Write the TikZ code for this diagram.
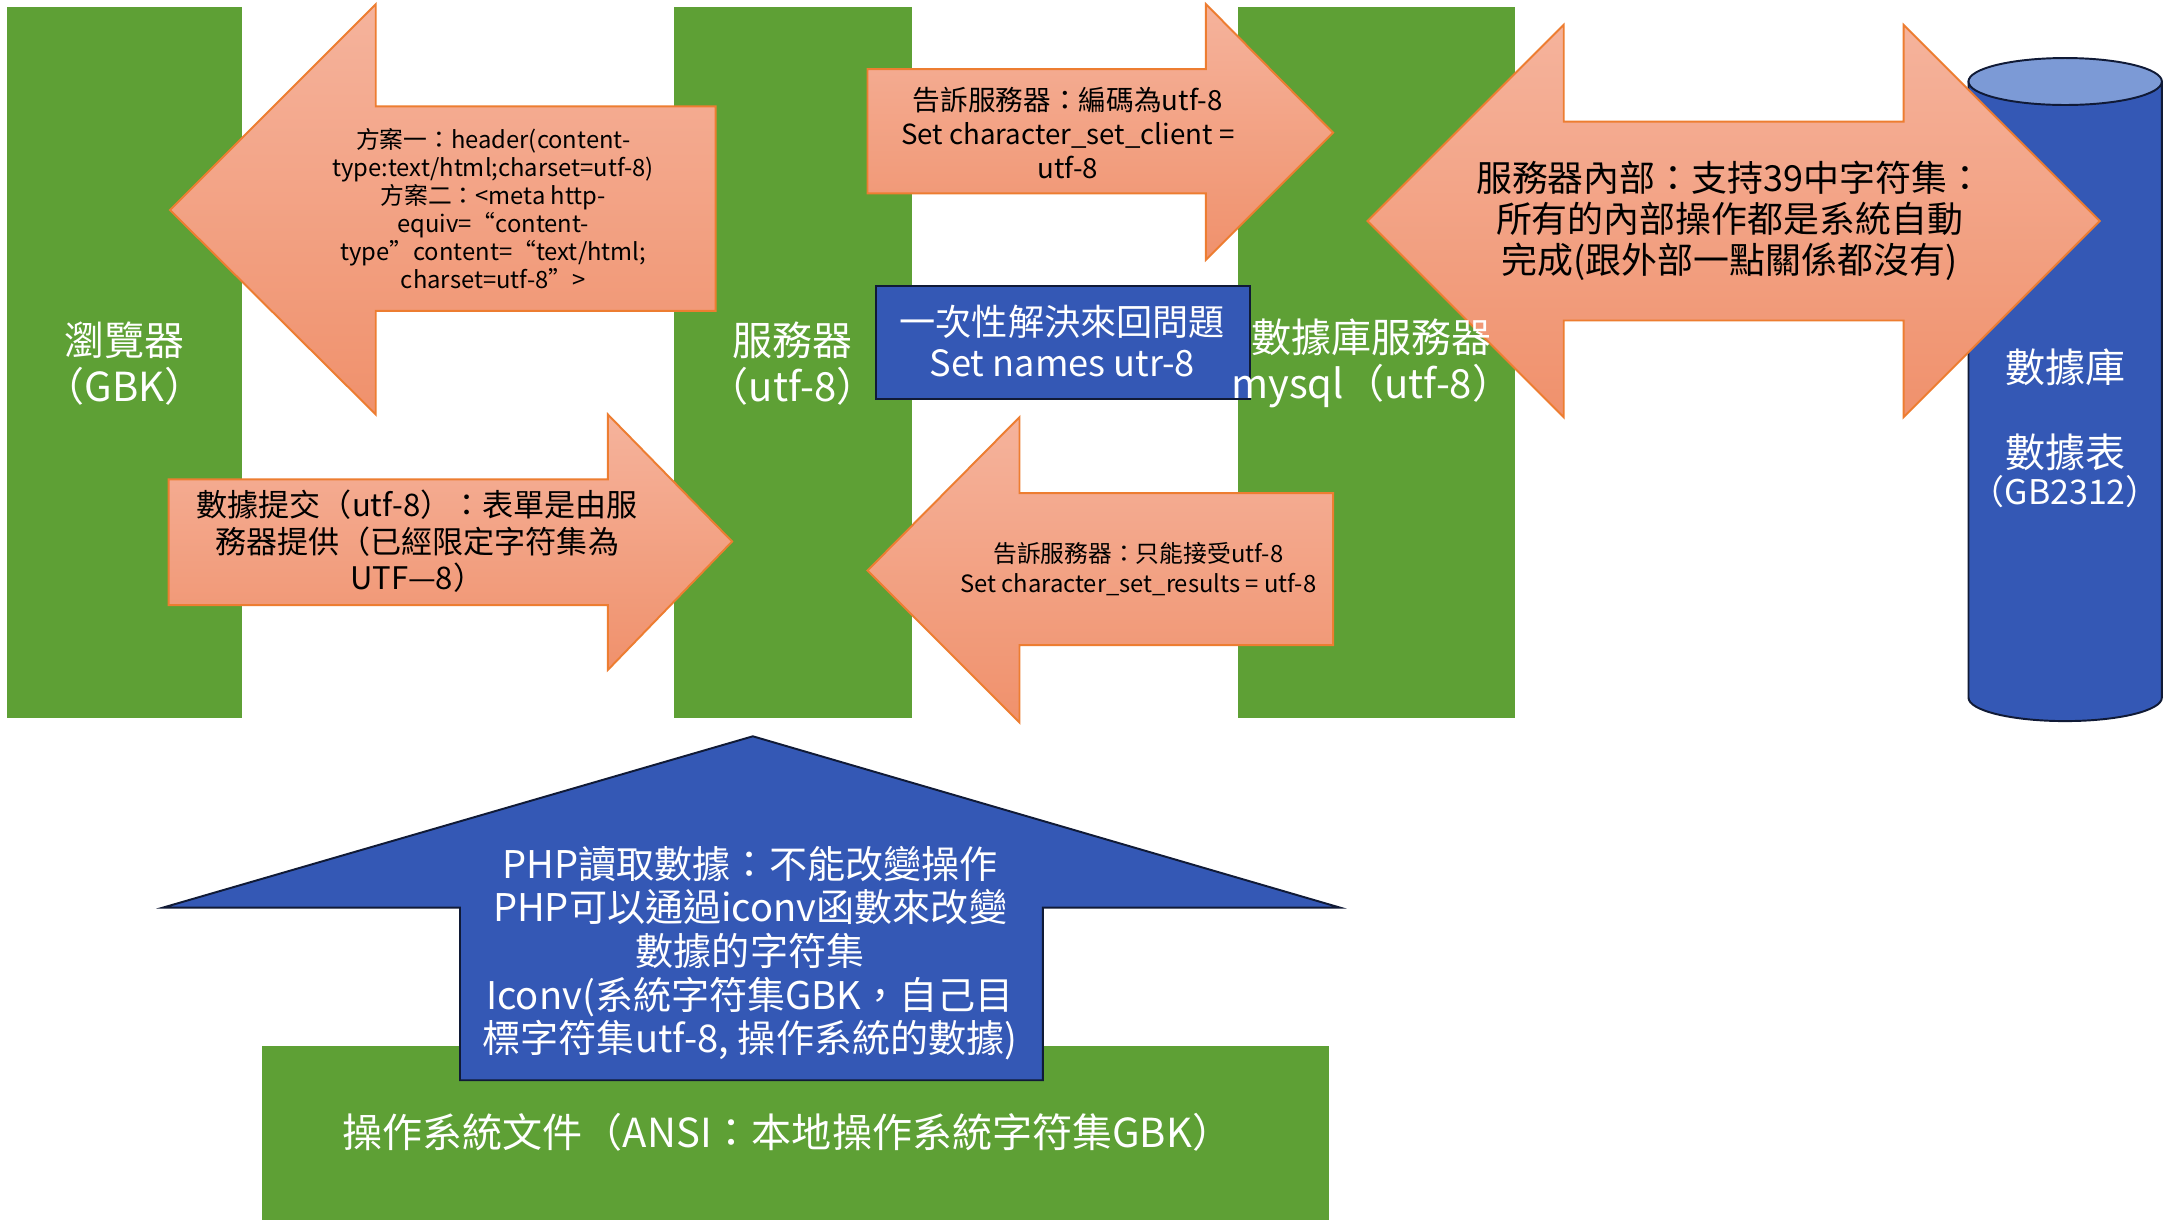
\documentclass[tikz,border=0pt]{standalone}
\usepackage{fontspec}
\setmainfont{Noto Sans CJK TC}
\usetikzlibrary{positioning}
\definecolor{colgreen}{HTML}{5EA035}
\definecolor{arrowline}{HTML}{ED7D31}
\definecolor{arrowtop}{HTML}{F5B39C}
\definecolor{arrowbot}{HTML}{F0916C}
\definecolor{dbblue}{HTML}{3458B5}
\definecolor{dbtop}{HTML}{7C9AD6}
\tikzset{
    column/.style={
    fill=colgreen
    },
    flow/.style={
    draw=arrowline,line width=0.8pt,top color=arrowtop,bottom color=arrowbot
    },
    bluebox/.style={
    draw=black!70!dbblue,line width=0.8pt,fill=dbblue
    },
    collabel/.style={
    text=white,align=center,font=\fontsize{16.5}{19}\selectfont
    },
    flowlabel/.style={
    text=black,align=center,font=\fontsize{11.4}{14}\selectfont
    },
    bluelabel/.style={
    text=white,align=center,font=\fontsize{15.7}{18}\selectfont
    },
}
\begin{document}
\begin{tikzpicture}[x=0.02cm,y=-0.02cm]
   \useasboundingbox (0,0) rectangle (1568,890);
   \fill[white] (0,0) rectangle (1568,890);
   % columns
   \fill[column] (5,5) rectangle (175,520);
   \fill[column] (488,5) rectangle (660,520);
   \fill[column] (896,5) rectangle (1097,520);
   \fill[column] (190,757) rectangle (962,883);
   % database cylinder
   \filldraw[bluebox] (1425,59) -- (1425,505) arc[start angle=180,end angle=360,x radius=70,y radius=-17] -- (1565,59) -- cycle;
   \filldraw[draw=black!70!dbblue,line width=0.8pt,fill=dbtop] (1495,59) ellipse[x radius=70,y radius=17];
   % arrows
   \filldraw[flow] (123,152) -- (272,3) -- (272,77) -- (518,77) -- (518,225) -- (272,225) -- (272,300) -- cycle;
   \filldraw[flow] (122,347) -- (440,347) -- (440,300) -- (530,392) -- (440,485) -- (440,438) -- (122,438) -- cycle;
   \filldraw[flow] (628,50) -- (873,50) -- (873,3) -- (965,96) -- (873,188) -- (873,140) -- (628,140) -- cycle;
   \filldraw[flow] (628,413) -- (738,302) -- (738,357) -- (965,357) -- (965,467) -- (738,467) -- (738,523) -- cycle;
   \filldraw[flow] (990,160) -- (1132,18) -- (1132,88) -- (1378,88) -- (1378,18) -- (1520,160) -- (1378,302) -- (1378,232) -- (1132,232) -- (1132,302) -- cycle;
   \filldraw[bluebox] (545,533) -- (970,657) -- (755,657) -- (755,782) -- (333,782) -- (333,657) -- (118,657) -- cycle;
   \filldraw[bluebox] (634,207) rectangle (905,289);
   % labels
   \node[collabel] (browser) at (90,263) {瀏覽器\\（GBK）};
   \node[collabel] (server) at (574,263) {服務器\\（utf-8）};
   \node[collabel] (dbserver) at (993,263) {數據庫服務器\\mysql（utf-8）};
   \node[collabel] (db) at (1495,310) {數據庫\\[16pt]數據表\\[-4pt]{\fontsize{14}{17}\selectfont（GB2312）}};
   \node[collabel] (osfile) at (570,820) {操作系統文件（ANSI：本地操作系統字符集GBK）};
   \node[bluelabel,font=\fontsize{14.9}{17}\selectfont] (once) at (769,247) {一次性解決來回問題\\Set names utr-8};
   \node[flowlabel,font=\fontsize{9.8}{11.5}\selectfont] (header) at (357,151) {方案一：header(content-\\type:text/html;charset=utf-8)\\方案二：<meta http-\\equiv=“content-\\type”content=“text/html;\\charset=utf-8”>};
   \node[flowlabel,font=\fontsize{12.8}{15}\selectfont] (submit) at (302,392) {數據提交（utf-8）：表單是由服\\務器提供（已經限定字符集為\\UTF—8）};
   \node[flowlabel] (client) at (773,96) {告訴服務器：編碼為utf-8\\Set character\_set\_client =\\utf-8};
   \node[flowlabel,font=\fontsize{9.8}{12}\selectfont] (results) at (824,412) {告訴服務器：只能接受utf-8\\Set character\_set\_results = utf-8};
   \node[flowlabel,font=\fontsize{14.8}{17}\selectfont] (internal) at (1252,160) {服務器內部：支持39中字符集：\\所有的內部操作都是系統自動\\完成(跟外部一點關係都沒有)};
   \node[bluelabel] (php) at (543,690) {PHP讀取數據：不能改變操作\\PHP可以通過iconv函數來改變\\數據的字符集\\Iconv(系統字符集GBK，自己目\\標字符集utf-8, 操作系統的數據)};
\end{tikzpicture}
\end{document}
